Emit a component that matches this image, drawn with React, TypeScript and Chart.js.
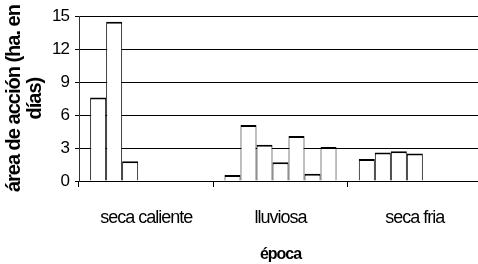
import { useEffect, useRef } from "react";
import { Chart, registerables } from "chart.js";

Chart.register(...registerables);

const categories = ["seca caliente", "lluviosa", "seca fria"];
const series1 = [7.6, 0.55, 2.0];
const series2 = [14.5, 5.1, 2.6];
const series3 = [1.8, 3.3, 2.7];
const series4 = [null, 1.7, 2.5];
const series5 = [null, 4.1, null];
const series6 = [null, 0.65, null];
const series7 = [null, 3.1, null];
const yTicks = [0, 3, 6, 9, 12, 15];
const yTitle = ["área de acción (ha. en", "días)"];
const xTitle = "época";

const FONT = "'Liberation Sans', Arial, sans-serif";

const spacingPlugin = {
  id: "spacing",
  beforeDraw(chart: any) {
    (chart.ctx as any).letterSpacing = "-1px";
  },
};

export default function App() {
  const ref = useRef<HTMLCanvasElement | null>(null);

  useEffect(() => {
    if (!ref.current) return;
    const all = [series1, series2, series3, series4, series5, series6, series7];
    const chart = new Chart(ref.current, {
      type: "bar",
      data: {
        labels: categories,
        datasets: all.map((s, i) => ({
          label: "s" + (i + 1),
          data: s as any,
          backgroundColor: "#ffffff",
          borderColor: "#000000",
          borderWidth: { top: 2, left: 1, right: 1, bottom: 0 },
          borderSkipped: false,
          barPercentage: 1,
          categoryPercentage: 0.834,
        })),
      },
      plugins: [spacingPlugin],
      options: {
        responsive: false,
        animation: false,
        devicePixelRatio: 1,
        layout: { padding: { top: 15, left: 0, right: 0, bottom: 0 } },
        plugins: {
          legend: { display: false },
          tooltip: { enabled: false },
        },
        scales: {
          x: {
            grid: {
              display: true,
              offset: true,
              drawOnChartArea: false,
              drawTicks: true,
              tickLength: 6,
              color: "#000",
            },
            border: { display: true, color: "#000", width: 1 },
            ticks: {
              color: "#000",
              font: { family: FONT, size: 18 },
              padding: 20,
              maxRotation: 0,
              autoSkip: false,
            },
            title: {
              display: true,
              text: xTitle,
              color: "#000",
              font: { family: FONT, size: 16, weight: "bold" },
              padding: { top: 0, bottom: 0 },
            },
            afterFit(scale: any) {
              scale.height = 83;
            },
          },
          y: {
            min: 0,
            max: 15,
            afterBuildTicks(scale: any) {
              scale.ticks = yTicks.map((v) => ({ value: v }));
            },
            grid: {
              color: "#000",
              lineWidth: 1,
              drawTicks: true,
              tickLength: 4,
            },
            border: { display: true, color: "#333", width: 1 },
            ticks: {
              color: "#000",
              font: { family: FONT, size: 17 },
              padding: 6,
            },
            title: {
              display: true,
              text: yTitle,
              color: "#000",
              font: { family: FONT, size: 20, weight: "bold", lineHeight: 1.05 },
              padding: { top: 3.5, bottom: 0 },
            },
            afterFit(scale: any) {
              scale.width = 79;
            },
          },
        },
      },
    });
    return () => chart.destroy();
  }, []);

  return (
    <div
      style={{
        position: "fixed",
        left: 0,
        top: 0,
        width: 478,
        height: 264,
        overflow: "hidden",
        background: "#fff",
      }}
    >
      <canvas
        ref={ref}
        width={482}
        height={264}
        style={{ display: "block", width: 482, height: 264 }}
      />
    </div>
  );
}
